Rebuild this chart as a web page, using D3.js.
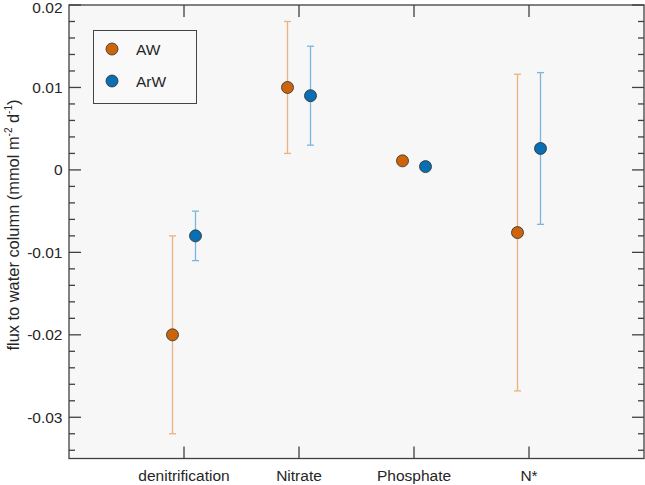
<!DOCTYPE html>
<html>
<head>
<meta charset="utf-8">
<script src="https://cdn.jsdelivr.net/npm/d3@7"></script>
<style>
  body { margin: 0; background: #fff; }
  text { font-family: "Liberation Sans", Arial, Helvetica, sans-serif; fill: #262626; }
</style>
</head>
<body>
<svg id="chart" width="645" height="485"></svg>
<script>
// categories on the x axis
const categories = ["denitrification", "Nitrate", "Phosphate", "N*"];
const seriesNames = ["AW", "ArW"];

// values (mmol m-2 d-1)
const awValue = [-0.020, 0.010, 0.0011, -0.0076];
const awLow   = [-0.032, 0.002, 0.0008, -0.0268];
const awHigh  = [-0.008, 0.018, 0.0014, 0.0116];

const arwValue = [-0.008, 0.009, 0.0004, 0.0026];
const arwLow   = [-0.011, 0.003, 0.0003, -0.0066];
const arwHigh  = [-0.005, 0.015, 0.0005, 0.0118];

const yTicks = [-0.03, -0.02, -0.01, 0, 0.01, 0.02];

///////////////////////////////////////////////////////////////

const svg = d3.select("#chart");
const plotL = 69, plotR = 644, plotT = 5, plotB = 458.5;
const axisColor = "#404040";
const markerColor = ["#cc650a", "#0a6fb2"];
const barColor = ["#ecb27e", "#7bb6de"];

const x = d3.scaleLinear().domain([0, 5]).range([plotL, plotR]);
const y = d3.scaleLinear().domain([-0.035, 0.02]).range([plotB, plotT]);

// plot background
svg.append("rect")
  .attr("x", plotL).attr("y", plotT)
  .attr("width", plotR - plotL).attr("height", plotB - plotT)
  .attr("fill", "#f7f7f7");

const series = [
  { name: seriesNames[0], offset: -0.1, v: awValue, lo: awLow, hi: awHigh, i: 0 },
  { name: seriesNames[1], offset: 0.1, v: arwValue, lo: arwLow, hi: arwHigh, i: 1 }
];

// error bars
series.forEach(s => {
  const g = svg.append("g")
    .attr("stroke", barColor[s.i])
    .attr("stroke-width", 1.3);
  categories.forEach((c, k) => {
    const cx = x(k + 1 + s.offset);
    g.append("line").attr("x1", cx).attr("x2", cx).attr("y1", y(s.lo[k])).attr("y2", y(s.hi[k]));
    [s.lo[k], s.hi[k]].forEach(val => {
      g.append("line").attr("x1", cx - 3.5).attr("x2", cx + 3.5).attr("y1", y(val)).attr("y2", y(val));
    });
  });
});

// markers
series.forEach(s => {
  svg.append("g").selectAll("circle")
    .data(s.v)
    .join("circle")
    .attr("cx", (d, k) => x(k + 1 + s.offset))
    .attr("cy", d => y(d))
    .attr("r", 6)
    .attr("fill", markerColor[s.i])
    .attr("stroke", "#2b2b2b")
    .attr("stroke-width", 0.8);
});

// axes
const minorTicks = d3.range(-0.034, 0.0201, 0.002).filter(t => !yTicks.some(m => Math.abs(m - t) < 1e-9));

function yAxis(g, side) {
  const dir = side === "left" ? 1 : -1;
  const x0 = side === "left" ? plotL : plotR;
  g.selectAll("line.major").data(yTicks).join("line")
    .attr("class", "major")
    .attr("x1", x0).attr("x2", x0 + dir * 12)
    .attr("y1", d => y(d)).attr("y2", d => y(d));
  g.selectAll("line.minor").data(minorTicks).join("line")
    .attr("class", "minor")
    .attr("x1", x0).attr("x2", x0 + dir * 6)
    .attr("y1", d => y(d)).attr("y2", d => y(d));
}

const axes = svg.append("g").attr("stroke", axisColor).attr("stroke-width", 1.3);
axes.append("rect")
  .attr("x", plotL).attr("y", plotT)
  .attr("width", plotR - plotL).attr("height", plotB - plotT)
  .attr("fill", "none");
axes.append("g").call(yAxis, "left");
axes.append("g").call(yAxis, "right");
axes.append("g").selectAll("line").data(categories).join("line")
  .attr("x1", (d, k) => x(k + 1)).attr("x2", (d, k) => x(k + 1))
  .attr("y1", plotB).attr("y2", plotB - 12);
axes.append("g").selectAll("line").data(categories).join("line")
  .attr("x1", (d, k) => x(k + 1)).attr("x2", (d, k) => x(k + 1))
  .attr("y1", plotT).attr("y2", plotT + 12);

// tick labels (top one nudged so it is not clipped by the page edge)
svg.append("g").selectAll("text")
  .data(yTicks)
  .join("text")
  .attr("x", 62.5)
  .attr("y", d => Math.max(y(d), 7))
  .attr("dy", "0.36em")
  .attr("text-anchor", "end")
  .attr("font-size", 15.5)
  .text(d => d === 0 ? "0" : d3.format(".2f")(d).replace("−", "-"));

svg.append("g").selectAll("text")
  .data(categories)
  .join("text")
  .attr("x", (d, k) => x(k + 1))
  .attr("y", 481)
  .attr("text-anchor", "middle")
  .attr("font-size", 15.5)
  .text(d => d);

// y label
const yl = svg.append("text")
  .attr("transform", "translate(18.5,225) rotate(-90)")
  .attr("text-anchor", "middle")
  .attr("font-size", 16.4);
yl.append("tspan").text("flux to water column (mmol m");
yl.append("tspan").attr("font-size", 10).attr("dy", -6.5).text("-2");
yl.append("tspan").attr("dy", 6.5).text(" d");
yl.append("tspan").attr("font-size", 10).attr("dy", -6.5).text("-1");
yl.append("tspan").attr("dy", 6.5).text(")");

// legend
const lg = svg.append("g");
lg.append("rect")
  .attr("x", 93.5).attr("y", 30.5).attr("width", 103).attr("height", 73)
  .attr("fill", "#f9f9f9").attr("stroke", "#444").attr("stroke-width", 1);
series.forEach((s, k) => {
  const ly = 49 + k * 32;
  lg.append("circle").attr("cx", 112).attr("cy", ly).attr("r", 6)
    .attr("fill", markerColor[s.i]).attr("stroke", "#2b2b2b").attr("stroke-width", 0.8);
  lg.append("text").attr("x", 136).attr("y", ly).attr("dy", "0.36em")
    .attr("font-size", 15.5).attr("fill", "#333").text(s.name);
});
</script>
</body>
</html>
